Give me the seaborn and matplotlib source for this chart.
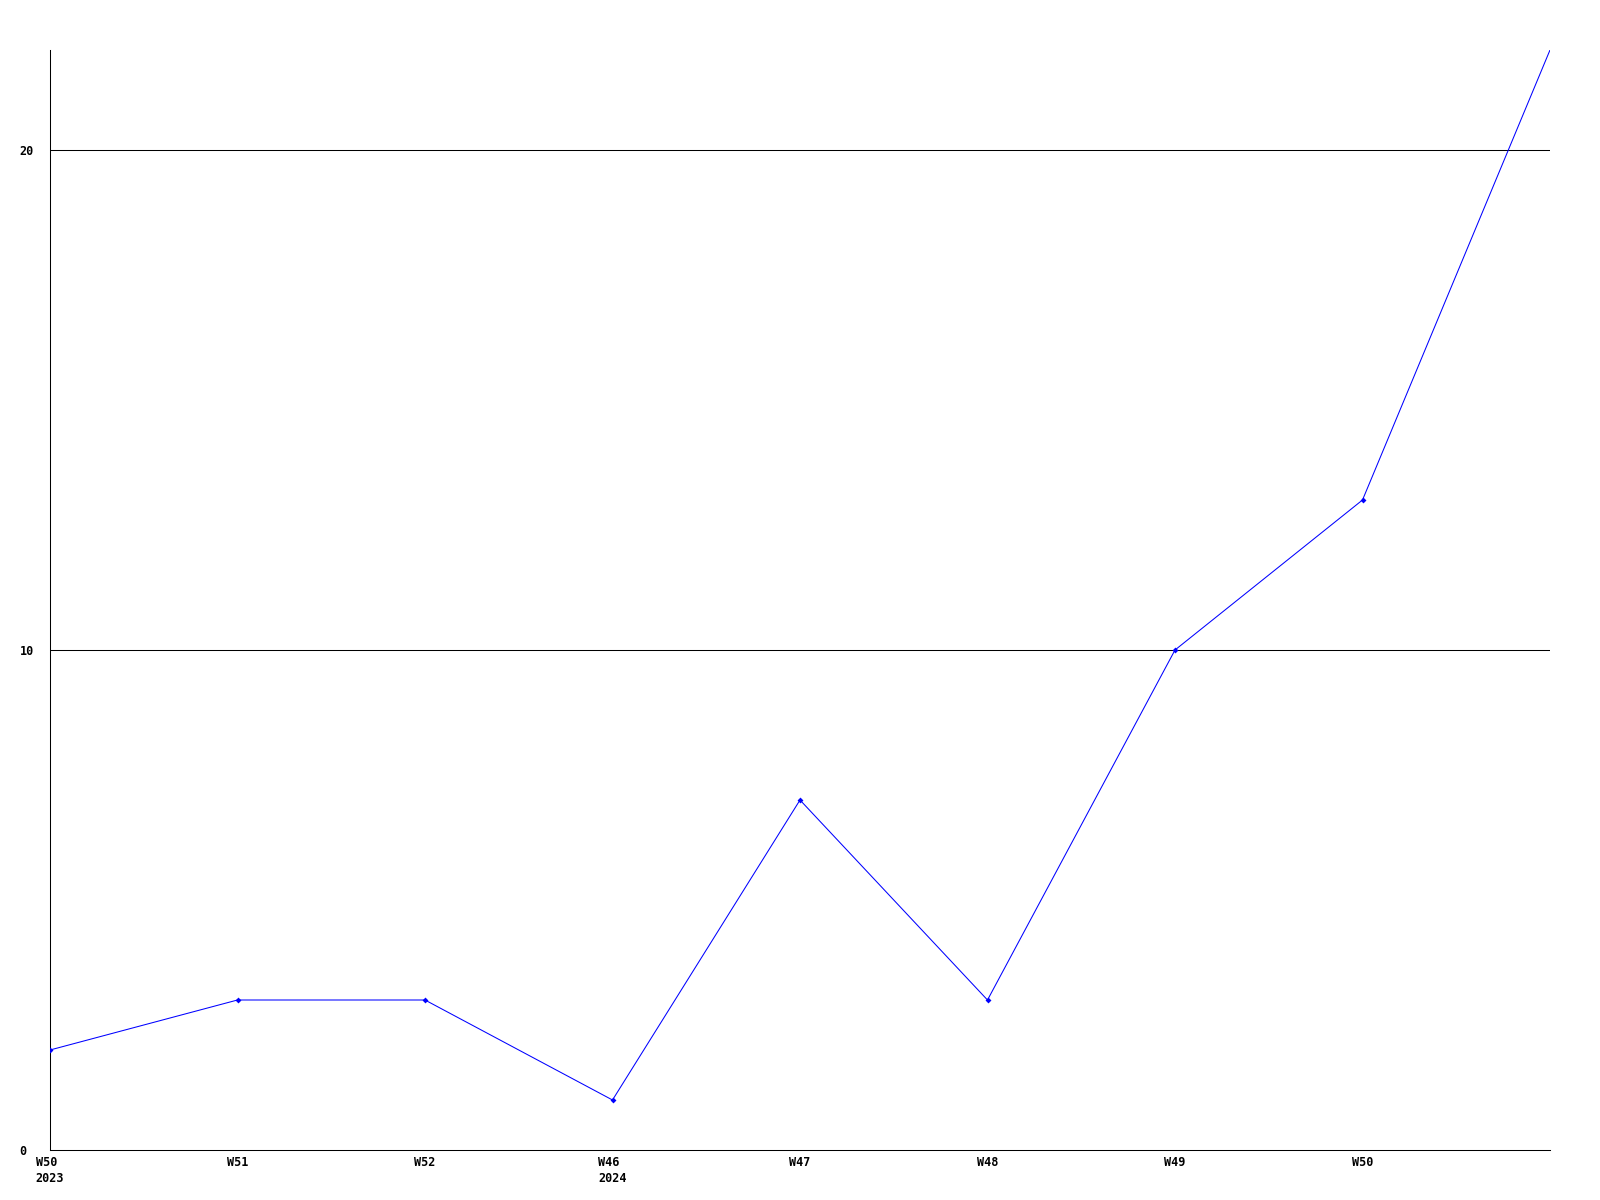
import matplotlib
matplotlib.use("Agg")
import matplotlib.pyplot as plt
import matplotlib.transforms as mtransforms
import seaborn as sns
import pandas as pd

weeks = ["W50\n2023", "W51", "W52", "W46\n2024", "W47", "W48", "W49", "W50", ""]
values = [2, 3, 3, 1, 7, 3, 10, 13, 22]
y_ticks = [0, 10, 20]

sns.set_theme(style="white")
plt.rcParams['font.family'] = ['DejaVu Sans Mono']
plt.rcParams['text.color'] = 'black'
plt.rcParams['xtick.color'] = 'black'
plt.rcParams['ytick.color'] = 'black'

df = pd.DataFrame({"idx": list(range(len(values))), "value": values})

fig = plt.figure(figsize=(16, 12), dpi=100)
ax = fig.add_axes([50/1600, 1 - 1150/1200, 1500/1600, 1100/1200])

for y in y_ticks[1:]:
    ax.axhline(y, color="black", linewidth=0.75, zorder=1)

sns.lineplot(data=df, x="idx", y="value", ax=ax, color="#0000ff", linewidth=0.75,
             marker="D", markersize=3, markeredgewidth=0, zorder=3,
             markevery=list(range(len(values) - 1)))

ax.set_xlim(0, 8)
ax.set_ylim(0, 22)
ax.set_xticks(list(range(len(weeks)))[:8])
ax.set_xticklabels(weeks[:8], fontsize=8.5, fontweight="bold", multialignment="left",
                   linespacing=1.35, color="black")
offset = mtransforms.ScaledTranslation(3/100, 0, fig.dpi_scale_trans)
for lab in ax.get_xticklabels():
    lab.set_transform(lab.get_transform() + offset)
ax.set_yticks(y_ticks)
ax.set_yticklabels([str(v) for v in y_ticks], fontsize=8.5, fontweight="bold", color="black")
for lab in ax.get_yticklabels():
    lab.set_horizontalalignment("left")
ax.tick_params(axis="y", length=0, pad=22)
ax.tick_params(axis="x", length=0, pad=4)
ax.set_xlabel("")
ax.set_ylabel("")
for s in ["top", "right"]:
    ax.spines[s].set_visible(False)
for s in ["left", "bottom"]:
    ax.spines[s].set_color("black")
    ax.spines[s].set_linewidth(0.75)
ax.grid(False)

fig.savefig("out.png", dpi=100, facecolor="white")
